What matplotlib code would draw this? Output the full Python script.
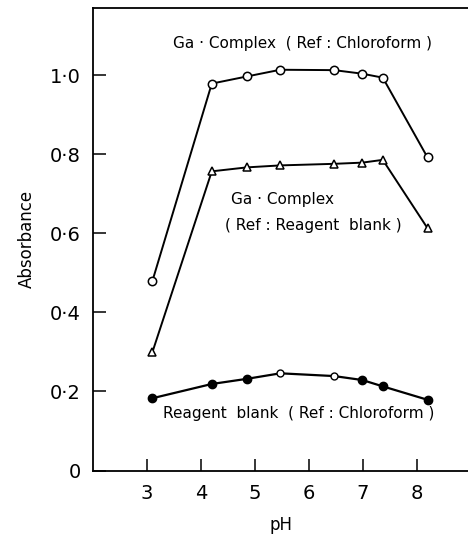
import numpy as np
import matplotlib
matplotlib.use('Agg')
import matplotlib.pyplot as plt

# pH values shared by all three curves
ph = [3.1, 4.2, 4.85, 5.47, 6.47, 6.99, 7.37, 8.2]

# absorbance readings
ga_chloroform = [0.48, 0.979, 0.997, 1.014, 1.013, 1.004, 0.994, 0.792]
ga_reagent = [0.30, 0.757, 0.767, 0.772, 0.776, 0.779, 0.786, 0.613]
blank_chloroform = [0.183, 0.219, 0.232, 0.246, 0.239, 0.229, 0.213, 0.179]
blank_open = [False, False, False, True, True, False, False, False]

xticks = [3, 4, 5, 6, 7, 8]
yticks = [0, 0.2, 0.4, 0.6, 0.8, 1.0]
ytick_labels = ['0', '0·2', '0·4', '0·6', '0·8', '1·0']

plt.rcParams['font.family'] = ['DejaVu Sans']

fig = plt.figure(figsize=(4.68, 5.39), dpi=100)
ax = fig.add_axes([0.199, 0.127, 0.801, 0.858])

ax.plot(ph, ga_chloroform, '-', color='black', lw=1.4, marker='o', ms=6,
        mfc='white', mec='black', mew=1.1)
ax.plot(ph, ga_reagent, '-', color='black', lw=1.4, marker='^', ms=6,
        mfc='white', mec='black', mew=1.1)
ax.plot(ph, blank_chloroform, '-', color='black', lw=1.6)
for x, y, op in zip(ph, blank_chloroform, blank_open):
    if op:
        ax.plot(x, y, 'o', ms=5, mfc='white', mec='black', mew=1.0)
    else:
        ax.plot(x, y, 'o', ms=6, mfc='black', mec='black')

ax.text(5.88, 1.08, 'Ga · Complex  ( Ref : Chloroform )', ha='center', va='center', fontsize=11)
ax.text(4.55, 0.685, 'Ga · Complex', ha='left', va='center', fontsize=11)
ax.text(4.45, 0.62, '( Ref : Reagent  blank )', ha='left', va='center', fontsize=11)
ax.text(3.3, 0.145, 'Reagent  blank  ( Ref : Chloroform )', ha='left', va='center', fontsize=11)

ax.set_xlim(2.0, 8.95)
ax.set_ylim(0, 1.17)
ax.set_xticks(xticks)
ax.set_yticks(yticks)
ax.set_yticklabels(ytick_labels)
ax.tick_params(direction='in', length=9, width=1.1, labelsize=14, pad=9)
ax.tick_params(axis='x', pad=10)
ax.spines['right'].set_visible(False)
for s in ['left', 'top', 'bottom']:
    ax.spines[s].set_linewidth(1.3)

ax.set_xlabel('pH', fontsize=12, labelpad=9)
ax.set_ylabel('Absorbance', fontsize=12, labelpad=10)

fig.savefig('out.png', dpi=100)
